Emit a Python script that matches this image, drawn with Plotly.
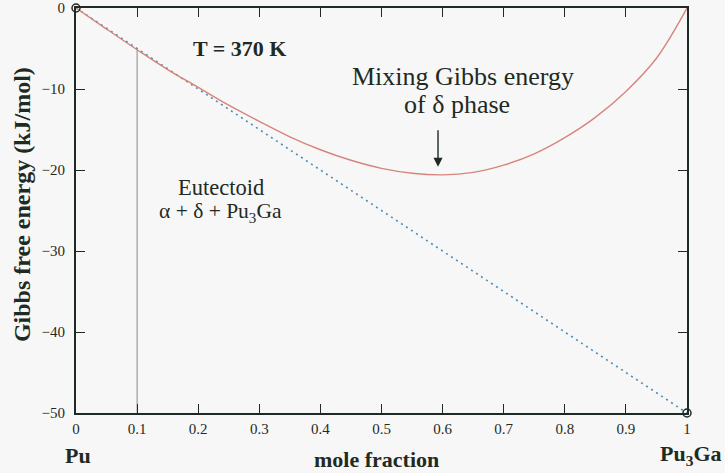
import plotly.graph_objects as go

# Data
x_frac = [0, 0.05, 0.1, 0.15, 0.2, 0.25, 0.3, 0.35, 0.4, 0.45, 0.5, 0.55, 0.6,
          0.65, 0.7, 0.75, 0.8, 0.85, 0.9, 0.95, 1.0]
g_delta = [0, -2.6, -5.15, -7.6, -9.8, -12.0, -14.0, -15.9, -17.5, -18.8, -19.8,
           -20.4, -20.6, -20.3, -19.4, -18.0, -16.0, -13.5, -10.3, -6.2, 0]
tie_x = [0, 1]
tie_g = [0, -50]
eut_x = [0.1, 0.1]
eut_g = [-50, -5.15]
x_ticks = [0, 0.1, 0.2, 0.3, 0.4, 0.5, 0.6, 0.7, 0.8, 0.9, 1]
x_ticklabels = ["0", "0.1", "0.2", "0.3", "0.4", "0.5", "0.6", "0.7", "0.8", "0.9", "1"]
y_ticks = [0, -10, -20, -30, -40, -50]
y_ticklabels = ["0", "\u221210", "\u221220", "\u221230", "\u221240", "\u221250"]

FONT = "Liberation Serif"
INK = "#1f2a22"
BG = "#f7f7f7"

fig = go.Figure()
fig.add_trace(go.Scatter(x=eut_x, y=eut_g, mode="lines",
                         line=dict(color="#8a8a8a", width=1), hoverinfo="skip"))
fig.add_trace(go.Scatter(x=tie_x, y=tie_g, mode="lines",
                         line=dict(color="#4a8cb5", width=1.6, dash="2px,4px"),
                         hoverinfo="skip"))
fig.add_trace(go.Scatter(x=x_frac, y=g_delta, mode="lines", line_shape="spline",
                         line=dict(color="#d6857d", width=1.4), hoverinfo="skip"))
fig.add_trace(go.Scatter(x=tie_x, y=tie_g, mode="markers",
                         marker=dict(symbol="circle-open", size=8, color=INK,
                                     line=dict(width=1.5, color=INK)),
                         hoverinfo="skip", cliponaxis=False))

axis_common = dict(ticks="inside", ticklen=9, tickwidth=1.2, tickcolor=INK,
                   showline=True, linecolor=INK, linewidth=2, mirror="ticks",
                   showgrid=False, zeroline=False, automargin=False,
                   tickfont=dict(size=15, family=FONT, color=INK))

fig.update_layout(
    width=725, height=473,
    margin=dict(l=76, r=38, t=8, b=60),
    paper_bgcolor=BG, plot_bgcolor=BG,
    showlegend=False,
    font=dict(family=FONT, color=INK, size=15),
    xaxis=dict(range=[0, 1], tickvals=x_ticks, ticktext=x_ticklabels,
               ticklabelstandoff=1, **axis_common),
    yaxis=dict(range=[-50, 0], tickvals=y_ticks, ticktext=y_ticklabels,
               ticklabelstandoff=6, **axis_common),
)

def txt(x, y, s, size, bold=False, xref="x", yref="y", angle=0, xanchor="center"):
    fig.add_annotation(x=x, y=y, xref=xref, yref=yref,
                       text=f"<b>{s}</b>" if bold else s, textangle=angle,
                       showarrow=False, xanchor=xanchor, yanchor="middle",
                       font=dict(size=size, family=FONT, color=INK))

txt(0.268, -5.0, "T = 370 K", 22, bold=True)
txt(0.634, -8.4, "Mixing Gibbs energy", 26)
txt(0.624, -11.9, "of \u03b4 phase", 26)
fig.add_annotation(x=0.5925, y=-19.6, ax=0.5925, ay=-14.9, xref="x", yref="y",
                   axref="x", ayref="y", text="", showarrow=True, arrowhead=2,
                   arrowsize=1.3, arrowwidth=1.4, arrowcolor=INK)
txt(0.237, -22.1, "Eutectoid", 22.5)
txt(0.237, -25.3, "\u03b1 + \u03b4 + Pu<sub>3</sub>Ga", 21.5)

# axis titles and end-member labels
txt(-0.088, 0.514, "Gibbs free energy (kJ/mol)", 24, bold=True,
    xref="paper", yref="paper", angle=-90)
txt(0.491, -0.116, "mole fraction", 22, bold=True, xref="paper", yref="paper")
txt(0.003, -0.104, "Pu", 22, bold=True, xref="paper", yref="paper")
txt(1.0605, -0.104, "Pu<sub>3</sub>Ga", 22, bold=True, xref="paper", yref="paper",
    xanchor="right")

fig.write_html(
    "out.html",
    config={"displayModeBar": False},
    post_script="document.body.style.margin='0';"
                "document.body.style.background='#f7f7f7';",
)
